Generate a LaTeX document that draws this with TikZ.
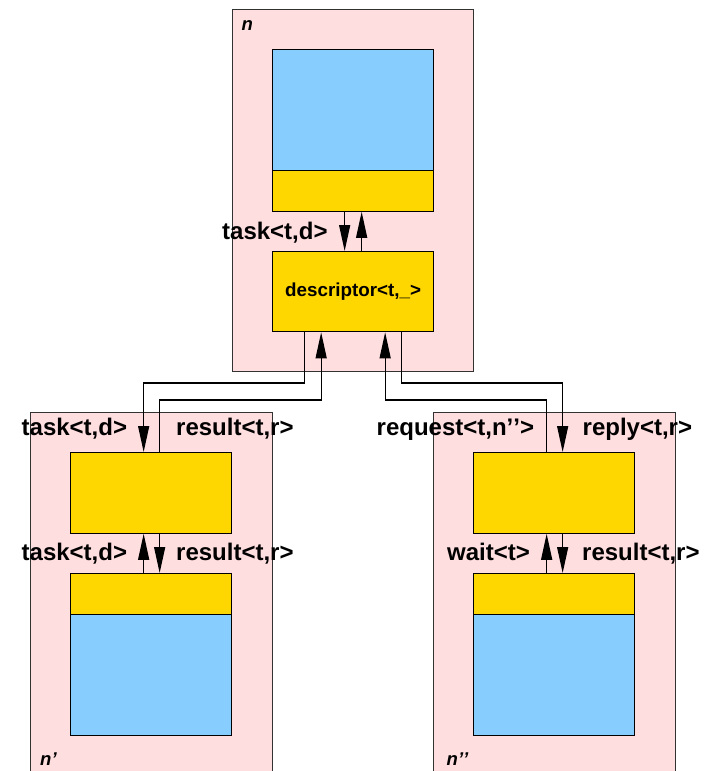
\documentclass[tikz,border=0pt]{standalone}
\usepackage{fontspec}
\setmainfont{Liberation Sans}
\usetikzlibrary{arrows.meta}
\definecolor{nodepink}{RGB}{255,222,224}
\definecolor{storeblue}{RGB}{135,206,255}
\definecolor{portgold}{RGB}{255,215,0}
\definecolor{framegray}{RGB}{50,50,50}

\begin{document}
\begin{tikzpicture}[x=1pt,y=-1pt,
  frame/.style={draw=framegray, fill=nodepink, line width=1.2pt, anchor=north west, inner sep=0pt},
  store/.style={draw=black, fill=storeblue, line width=1.3pt, anchor=north west, inner sep=0pt, minimum width=161pt},
  port/.style={draw=black, fill=portgold, line width=1.3pt, anchor=north west, inner sep=0pt, minimum width=161pt},
  wire/.style={line width=1.3pt, -{Triangle[length=26pt,width=11pt]}},
  msg/.style={font=\fontsize{24}{28}\selectfont\bfseries, anchor=base west, inner sep=0pt},
  host/.style={font=\fontsize{18.5}{22}\selectfont\bfseries\itshape, anchor=base west, inner sep=0pt}]

\clip (0,0) rectangle (705,771);

% host n
\node[frame, minimum width=241pt, minimum height=362pt] (n0) at (232,9) {};
\node[store, minimum height=121pt] (topstore) at (272,49) {};
\node[port, minimum height=40.5pt] (topport) at (272,170) {};
\node[port, minimum height=80pt, font=\fontsize{18.8}{22}\selectfont\bfseries] (desc) at (272,251) {descriptor<t,\_>};

% host n'
\node[frame, minimum width=241.5pt, minimum height=400pt] (n1) at (30,411.5) {};
\node[port, minimum height=80.5pt] (lportA) at (70,452) {};
\node[port, minimum height=40.5pt] (lportB) at (70,573) {};
\node[store, minimum height=121pt] (lstore) at (70,613.5) {};

% host n''
\node[frame, minimum width=241.5pt, minimum height=400pt] (n2) at (433,411.5) {};
\node[port, minimum height=80.5pt] (rportA) at (473,452) {};
\node[port, minimum height=40.5pt] (rportB) at (473,573) {};
\node[store, minimum height=121pt] (rstore) at (473,613.5) {};

% attachment points
\coordinate (busA) at (0,383);
\coordinate (busB) at (0,400);
\coordinate (dA) at ([xshift=-48.5pt]desc.south);
\coordinate (dB) at ([xshift=-32pt]desc.south);
\coordinate (dC) at ([xshift=32pt]desc.south);
\coordinate (dD) at ([xshift=48.5pt]desc.south);
\coordinate (tA) at ([xshift=-8.5pt]topport.south);
\coordinate (tB) at ([xshift=8.5pt]topport.south);
\coordinate (lA) at ([xshift=-7.5pt]lportA.north);
\coordinate (lB) at ([xshift=8.5pt]lportA.north);
\coordinate (rA) at ([xshift=-7.5pt]rportA.north);
\coordinate (rB) at ([xshift=8.5pt]rportA.north);

% links inside n
\draw[wire] (tA) -- (tA |- desc.north);
\draw[wire] (tB |- desc.north) -- (tB);

% links between hosts
\draw[wire] (dA) -- (dA |- busA) -| (lA);
\draw[wire] (lB) -- (lB |- busB) -| (dB);
\draw[wire] (rA) -- (rA |- busB) -| (dC);
\draw[wire] (dD) -- (dD |- busA) -| (rB);

% links inside n' and n''
\draw[wire] (lA |- lportB.north) -- (lA |- lportA.south);
\draw[wire] (lB |- lportA.south) -- (lB |- lportB.north);
\draw[wire] (rA |- rportB.north) -- (rA |- rportA.south);
\draw[wire] (rB |- rportA.south) -- (rB |- rportB.north);

% message labels
\node[msg] (mTask0) at (222,239) {task<t,d>};
\node[msg] (mTask1) at (21.5,435) {task<t,d>};
\node[msg] (mRes1) at (176,435) {result<t,r>};
\node[msg] (mTask2) at (21.5,560.5) {task<t,d>};
\node[msg] (mRes2) at (176,560.5) {result<t,r>};
\node[msg] (mReq) at (376.5,435) {request<t,n’\kern0pt’>};
\node[msg] (mRep) at (582.5,435) {reply<t,r>};
\node[msg] (mWait) at (447,560.5) {wait<t>};
\node[msg] (mRes3) at (582,560.5) {result<t,r>};

% host names
\node[host] (hN) at (241.5,30) {n};
\node[host] (hN1) at (40,765) {n’};
\node[host] (hN2) at (446.5,765) {n’\kern0pt’};
\end{tikzpicture}
\end{document}
